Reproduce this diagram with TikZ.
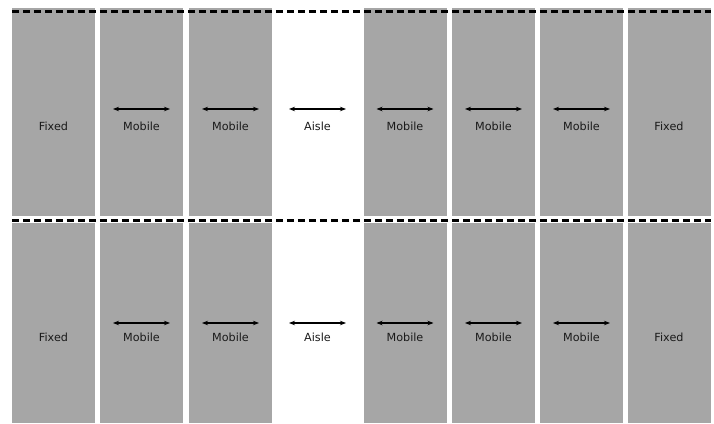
\documentclass[tikz,border=0pt]{standalone}
\usepackage{fontspec}
\setmainfont{DejaVu Sans}
\usepackage{tikz}
\usetikzlibrary{arrows.meta}
\definecolor{shelf_gray}{HTML}{A6A6A6}
\definecolor{label_text}{HTML}{1A1A1A}

\begin{document}
\begin{tikzpicture}[
	x = 1pt, y = 1pt,
	shelf/.style = {rectangle, fill=shelf_gray, minimum width=83pt, inner sep=0pt},
	aisle/.style = {rectangle, minimum width=88pt, inner sep=0pt},
	lbl/.style = {text=label_text, inner sep=0pt},
	move/.style = {{Stealth[length=6pt, width=4.5pt]}-{Stealth[length=6pt, width=4.5pt]}, line width=1.1pt},
	rail/.style = {line width=3.2pt, dash pattern=on 7.5pt off 3.5pt},
]
\tikzstyle{every node}=[font=\fontsize{11.2}{13}\selectfont]
\useasboundingbox (0,0) rectangle (714,423);

% Define shelves
\foreach \row/\ymid/\hgt in {top/311/208, bot/100/200} {
  \foreach \col/\xmid/\kind/\txt in {1/53.5/shelf/Fixed, 2/141.5/shelf/Mobile, 3/230.5/shelf/Mobile, 4/317.5/aisle/Aisle, 5/405/shelf/Mobile, 6/493.5/shelf/Mobile, 7/581.5/shelf/Mobile, 8/669/shelf/Fixed} {
    \node[\kind, minimum height=\hgt pt] (\row\col) at (\xmid,\ymid) {};
    \node[lbl] (\row\col-lbl) at ([yshift=-14pt]\row\col.center) {\txt};
  }
}

% Draw movement arrows
\foreach \row/\dy in {top/3, bot/0} {
  \foreach \col in {2,...,7} {
    \coordinate (\row\col-l) at ([xshift=-28.5pt, yshift=\dy pt]\row\col.center);
    \coordinate (\row\col-r) at ([xshift=28.5pt, yshift=\dy pt]\row\col.center);
    \draw[move] (\row\col-l) -- (\row\col-r);
  }
}

% Draw rails
\draw[rail] ([yshift=-3.5pt]top1.north west) -- ([yshift=-3.5pt]top8.north east);
\draw[rail] ([yshift=-4pt]top1.south west) -- ([yshift=-4pt]top8.south east);
\end{tikzpicture}
\end{document}
